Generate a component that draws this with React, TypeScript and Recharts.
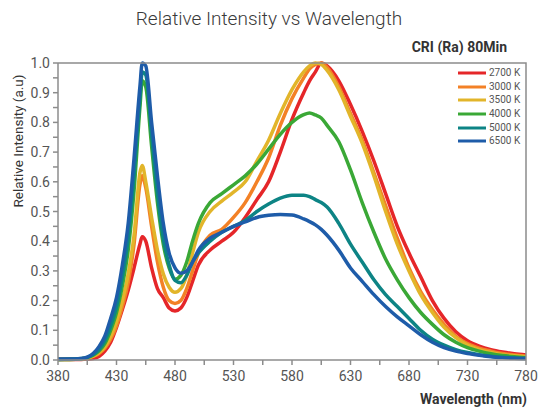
import React from 'react';
import { LineChart, Line, XAxis, YAxis, Legend } from 'recharts';

// wavelength grid (nm)
const wavelengths = [
  380, 390, 400, 405, 410, 415, 420, 425, 430, 435, 440, 445, 450, 452, 455, 460, 465, 470, 475, 480,
  485, 490, 495, 500, 510, 520, 530, 540, 550, 560, 570, 580, 590, 595, 600, 605, 610, 620, 630, 640,
  650, 660, 670, 680, 690, 700, 710, 720, 730, 740, 750, 760, 770, 780,
];

// relative intensity per CCT
const cct2700 = [
  0.002, 0.002, 0.002, 0.003, 0.005, 0.012, 0.03, 0.06, 0.11, 0.17, 0.235, 0.31, 0.39, 0.415, 0.4, 0.31, 0.24, 0.21, 0.175, 0.165,
  0.175, 0.21, 0.265, 0.32, 0.37, 0.4, 0.43, 0.48, 0.54, 0.6, 0.7, 0.81, 0.9, 0.94, 0.97, 1.0, 0.99, 0.94, 0.86, 0.77,
  0.67, 0.56, 0.45, 0.36, 0.28, 0.2, 0.14, 0.095, 0.065, 0.047, 0.035, 0.027, 0.021, 0.017,
];
const cct3000 = [
  0.003, 0.003, 0.004, 0.006, 0.012, 0.022, 0.04, 0.07, 0.115, 0.18, 0.26, 0.39, 0.59, 0.62, 0.58, 0.45, 0.33, 0.245, 0.2, 0.19,
  0.2, 0.24, 0.3, 0.36, 0.42, 0.44, 0.48, 0.53, 0.6, 0.68, 0.79, 0.88, 0.95, 0.98, 0.995, 1.0, 0.985, 0.92, 0.83, 0.74,
  0.63, 0.52, 0.41, 0.31, 0.23, 0.17, 0.12, 0.08, 0.055, 0.04, 0.03, 0.022, 0.017, 0.013,
];
const cct3500 = [
  0.002, 0.002, 0.004, 0.007, 0.013, 0.025, 0.045, 0.08, 0.13, 0.2, 0.29, 0.42, 0.63, 0.655, 0.6, 0.48, 0.37, 0.29, 0.245, 0.228,
  0.24, 0.285, 0.36, 0.43, 0.5, 0.535, 0.565, 0.6, 0.67, 0.74, 0.83, 0.91, 0.97, 0.99, 1.0, 0.995, 0.975, 0.91, 0.82, 0.73,
  0.62, 0.5, 0.39, 0.3, 0.22, 0.16, 0.11, 0.075, 0.05, 0.035, 0.025, 0.018, 0.014, 0.011,
];
const cct4000 = [
  0.002, 0.002, 0.004, 0.008, 0.016, 0.03, 0.055, 0.1, 0.16, 0.25, 0.37, 0.57, 0.85, 0.94, 0.92, 0.72, 0.53, 0.39, 0.31, 0.272,
  0.285, 0.33, 0.4, 0.46, 0.53, 0.56, 0.59, 0.62, 0.66, 0.71, 0.76, 0.8, 0.826, 0.832, 0.825, 0.815, 0.79, 0.735, 0.64, 0.53,
  0.43, 0.34, 0.27, 0.21, 0.16, 0.12, 0.085, 0.06, 0.042, 0.03, 0.021, 0.015, 0.011, 0.008,
];
const cct5000 = [
  0.002, 0.003, 0.005, 0.009, 0.018, 0.035, 0.065, 0.115, 0.18, 0.28, 0.41, 0.62, 0.88, 0.97, 0.96, 0.76, 0.56, 0.41, 0.32, 0.268,
  0.26, 0.285, 0.33, 0.36, 0.4, 0.43, 0.45, 0.47, 0.5, 0.525, 0.545, 0.555, 0.555, 0.55, 0.54, 0.53, 0.515, 0.46, 0.39, 0.33,
  0.27, 0.22, 0.18, 0.14, 0.1, 0.07, 0.05, 0.035, 0.025, 0.018, 0.013, 0.009, 0.007, 0.005,
];
const cct6500 = [
  0.003, 0.003, 0.005, 0.01, 0.022, 0.045, 0.08, 0.14, 0.21, 0.32, 0.46, 0.68, 0.92, 1.0, 0.99, 0.8, 0.62, 0.46, 0.36, 0.31,
  0.292, 0.3, 0.33, 0.37, 0.41, 0.43, 0.45, 0.465, 0.48, 0.487, 0.49, 0.488, 0.475, 0.466, 0.455, 0.44, 0.42, 0.37, 0.31, 0.265,
  0.22, 0.18, 0.145, 0.115, 0.085, 0.06, 0.042, 0.03, 0.022, 0.016, 0.011, 0.008, 0.006, 0.005,
];

const seriesNames = ['2700 K', '3000 K', '3500 K', '4000 K', '5000 K', '6500 K'];
const seriesColors = ['#e52629', '#f38126', '#e2b52a', '#3aa836', '#0d8485', '#1e5ca9'];
const seriesValues = [cct2700, cct3000, cct3500, cct4000, cct5000, cct6500];

const xTicks = [380, 405, 430, 455, 480, 505, 530, 555, 580, 605, 630, 655, 680, 705, 730, 755, 780];
const xLabels = [380, 430, 480, 530, 580, 630, 680, 730, 780];
const yTicks = [0, 0.05, 0.1, 0.15, 0.2, 0.25, 0.3, 0.35, 0.4, 0.45, 0.5, 0.55, 0.6, 0.65, 0.7, 0.75, 0.8, 0.85, 0.9, 0.95, 1];
const yLabels = ['0.0', '0.1', '0.2', '0.3', '0.4', '0.5', '0.6', '0.7', '0.8', '0.9', '1.0'];

const data = wavelengths.map((wl, i) => {
  const row: Record<string, number> = { wl };
  seriesNames.forEach((name, s) => {
    row[name] = seriesValues[s][i];
  });
  return row;
});

const FONT = 'Roboto, "DejaVu Sans", sans-serif';
const AXIS = '#8c8c8c';

const XTick = (props: any) => {
  const { x, y, payload } = props;
  if (!xLabels.includes(payload.value)) return <g />;
  return (
    <text x={x} y={y + 13} textAnchor="middle" fontSize={14} fill="#555" fontFamily={FONT}>
      {payload.value}
    </text>
  );
};

const YTick = (props: any) => {
  const { x, y, payload } = props;
  const label = payload.value.toFixed(1);
  const isMajor = Math.round(payload.value * 100) % 10 === 0;
  if (!isMajor || !yLabels.includes(label)) return <g />;
  return (
    <text x={x} y={y + 5} textAnchor="end" fontSize={14} fill="#555" fontFamily={FONT}>
      {label}
    </text>
  );
};

const LegendBox = (props: any) => {
  const { payload } = props;
  return (
    <div style={{ fontFamily: FONT }}>
      {(payload || []).map((entry: any) => (
        <div key={entry.value} style={{ display: 'flex', alignItems: 'center', height: 13.7 }}>
          <svg width={28} height={4} style={{ marginRight: 3 }}>
            <line x1={0} y1={2} x2={28} y2={2} stroke={entry.color} strokeWidth={3} />
          </svg>
          <span style={{ fontSize: 10, color: '#555', lineHeight: '10px' }}>{entry.value}</span>
        </div>
      ))}
    </div>
  );
};

const App: React.FC = () => {
  return (
    <div
      style={{
        position: 'absolute',
        left: 0,
        top: 0,
        width: 538,
        height: 410,
        background: '#fff',
        fontFamily: FONT,
      }}
    >
      <div
        style={{
          position: 'absolute',
          top: 7,
          left: 0,
          width: 538,
          textAlign: 'center',
          fontSize: 19,
          fontWeight: 300,
          color: '#3a3a3a',
        }}
      >
        Relative Intensity vs Wavelength
      </div>
      <div
        style={{
          position: 'absolute',
          top: 39,
          right: 31,
          fontSize: 14,
          fontWeight: 'bold',
          color: '#333',
        }}
      >
        CRI (Ra) 80Min
      </div>
      <div
        style={{
          position: 'absolute',
          left: 18,
          top: 141,
          transform: 'translate(-50%, -50%) rotate(-90deg)',
          whiteSpace: 'nowrap',
          fontSize: 13.5,
          fontWeight: 400,
          color: '#333',
        }}
      >
        Relative Intensity (a.u)
      </div>
      <div
        style={{
          position: 'absolute',
          top: 391,
          right: 11,
          fontSize: 14,
          fontWeight: 'bold',
          color: '#333',
        }}
      >
        Wavelength (nm)
      </div>
      {/* plot frame: top and right edges */}
      <svg
        width={538}
        height={410}
        style={{ position: 'absolute', left: 0, top: 0, zIndex: 3, pointerEvents: 'none' }}
      >
        <polyline points="58,63 526,63 526,360" fill="none" stroke={AXIS} strokeWidth={1.5} />
      </svg>
      <LineChart
        width={538}
        height={410}
        data={data}
        margin={{ top: 63, right: 12, bottom: 20, left: 28 }}
      >
        <XAxis
          dataKey="wl"
          type="number"
          domain={[380, 780]}
          ticks={xTicks}
          interval={0}
          height={30}
          stroke={AXIS}
          strokeWidth={1.5}
          tickSize={5}
          tickMargin={3}
          tick={<XTick />}
        />
        <YAxis
          type="number"
          domain={[0, 1]}
          ticks={yTicks}
          interval={0}
          width={30}
          stroke={AXIS}
          strokeWidth={1.5}
          tickSize={5}
          tickMargin={3}
          tick={<YTick />}
        />
        <Legend
          layout="vertical"
          align="center"
          verticalAlign="middle"
          content={<LegendBox />}
          wrapperStyle={{ position: 'absolute', top: 66, left: 458, width: 'auto', height: 'auto' }}
        />
        {seriesNames.map((name, s) => (
          <Line
            key={name}
            dataKey={name}
            name={name}
            type="monotone"
            stroke={seriesColors[s]}
            strokeWidth={3.5}
            dot={false}
            activeDot={false}
            isAnimationActive={false}
          />
        ))}
      </LineChart>
    </div>
  );
};

export default App;
